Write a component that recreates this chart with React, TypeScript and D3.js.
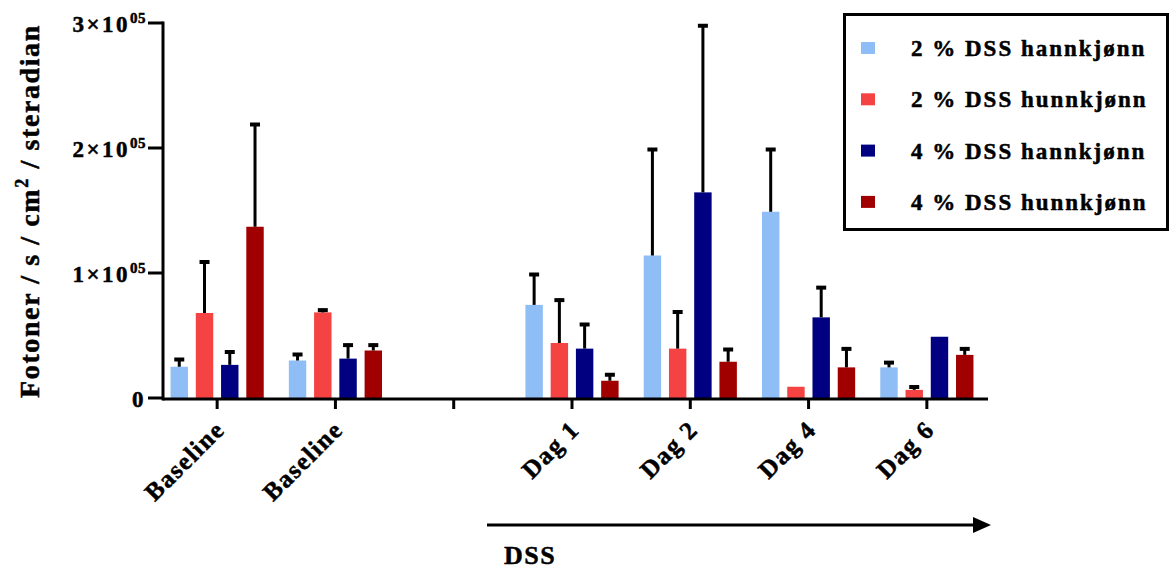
import React from "react";
import * as d3 from "d3";

const categories = ["Baseline", "Baseline", "", "Dag 1", "Dag 2", "Dag 4", "Dag 6"];
const seriesNames = ["2 % DSS hannkjønn", "2 % DSS hunnkjønn", "4 % DSS hannkjønn", "4 % DSS hunnkjønn"];
const seriesColors = ["#8EBEF5", "#F54343", "#000080", "#A00000"];

// means (null = no bar)
const male2 = [25000, 30000, null, 74500, 114000, 149000, 24500];
const female2 = [68000, 68500, null, 44000, 39500, 9000, 6500];
const male4 = [26500, 31500, null, 39500, 164500, 64500, 49000];
const female4 = [137000, 38000, null, 13800, 29000, 24500, 34500];
// upper error (SEM)
const male2Err = [7000, 6000, null, 25500, 86000, 51000, 5000];
const female2Err = [42000, 3000, null, 35500, 30500, 0, 3500];
const male4Err = [11500, 12000, null, 20500, 134500, 25000, 0];
const female4Err = [83000, 5500, null, 6000, 11000, 16000, 6000];

const yTicks = [0, 100000, 200000, 300000];

const values = [male2, female2, male4, female4];
const errors = [male2Err, female2Err, male4Err, female4Err];

const W = 1173;
const H = 571;
const serif = "'Liberation Serif', 'Times New Roman', serif";
const thick = { stroke: "#000", strokeWidth: 0.5 };

export default function App() {
  const y = d3.scaleLinear().domain([0, 300000]).range([398, 23]);
  const x0 = d3
    .scaleBand<number>()
    .domain(categories.map((_, i) => i))
    .range([158, 986])
    .paddingInner(0)
    .paddingOuter(0);
  const groupW = 101;
  const x1 = d3
    .scaleBand<number>()
    .domain([0, 1, 2, 3])
    .range([-groupW / 2, groupW / 2])
    .paddingInner(0.31)
    .paddingOuter(0.155);
  const bw = x1.bandwidth();
  const axisY = 399;
  const axisLeft = 163;
  const axisRight = 988;

  return (
    <svg
      width={W}
      height={H}
      style={{ position: "absolute", left: 0, top: 0, background: "#fff" }}
      fontFamily={serif}
      fontWeight="bold"
    >
      {/* bars */}
      {values.map((vals, s) =>
        vals.map((v, c) => {
          if (v == null) return null;
          const cx = (x0(c) as number) + x0.bandwidth() / 2;
          const bx = cx + (x1(s) as number);
          return (
            <rect
              key={`b${s}-${c}`}
              x={bx}
              y={y(v)}
              width={bw}
              height={y(0) - y(v)}
              fill={seriesColors[s]}
            />
          );
        })
      )}
      {/* error bars */}
      {values.map((vals, s) =>
        vals.map((v, c) => {
          const e = errors[s][c];
          if (v == null || !e) return null;
          const cx = (x0(c) as number) + x0.bandwidth() / 2;
          const mx = cx + (x1(s) as number) + bw / 2;
          const top = y(v + e);
          return (
            <g key={`e${s}-${c}`} stroke="#000">
              <line x1={mx} x2={mx} y1={y(v)} y2={top} strokeWidth={3} />
              <line x1={mx - 5} x2={mx + 5} y1={top + 1.5} y2={top + 1.5} strokeWidth={4} />
            </g>
          );
        })
      )}
      {/* y axis */}
      <line x1={axisLeft} x2={axisLeft} y1={y(300000) - 1.5} y2={axisY + 1.5} stroke="#000" strokeWidth={3} />
      {yTicks.map((t) => (
        <g key={`yt${t}`}>
          <line x1={148} x2={axisLeft} y1={y(t)} y2={y(t)} stroke="#000" strokeWidth={3} />
          <text x={146} y={y(t) + 9} textAnchor="end" fontSize={23} letterSpacing={2.5} {...thick}>
            {t === 0 ? (
              "0"
            ) : (
              <>
                {`${t / 100000}×10`}
                <tspan fontSize={15} dy={-9} letterSpacing={0.5}>
                  05
                </tspan>
              </>
            )}
          </text>
        </g>
      ))}
      {/* x axis */}
      <line x1={axisLeft} x2={axisRight} y1={axisY} y2={axisY} stroke="#000" strokeWidth={3} />
      {categories.map((c, i) => {
        const cx = (x0(i) as number) + x0.bandwidth() / 2;
        return (
          <g key={`xt${i}`}>
            <line x1={cx} x2={cx} y1={axisY} y2={axisY + 10} stroke="#000" strokeWidth={3} />
            {c && (
              <text
                transform={`translate(${cx + 9},${431}) rotate(-45)`}
                textAnchor="end"
                fontSize={25}
                letterSpacing={1.5}
                {...thick}
              >
                {c}
              </text>
            )}
          </g>
        );
      })}
      {/* y title */}
      <text transform={`translate(39,211) rotate(-90)`} textAnchor="middle" fontSize={28} letterSpacing={1.6} {...thick}>
        Fotoner / s / cm
        <tspan fontSize={18} dy={-11}>
          2
        </tspan>
        <tspan dy={11}> / steradian</tspan>
      </text>
      {/* DSS arrow */}
      <line x1={487} x2={975} y1={525} y2={525} stroke="#000" strokeWidth={3} />
      <path d="M973,517 L991,525 L973,533 Z" fill="#000" />
      <text x={504} y={564} fontSize={26} letterSpacing={1.5} {...thick}>
        DSS
      </text>
      {/* legend */}
      <rect x={844.5} y={14.5} width={323} height={215} fill="#fff" stroke="#000" strokeWidth={3} />
      {seriesNames.map((n, i) => {
        const cy = 48 + i * 51.3;
        return (
          <g key={`lg${i}`}>
            <rect x={861} y={cy - 6} width={14} height={12} fill={seriesColors[i]} />
            <text x={911} y={cy + 8} fontSize={23} letterSpacing={2} {...thick}>
              {n}
            </text>
          </g>
        );
      })}
    </svg>
  );
}
